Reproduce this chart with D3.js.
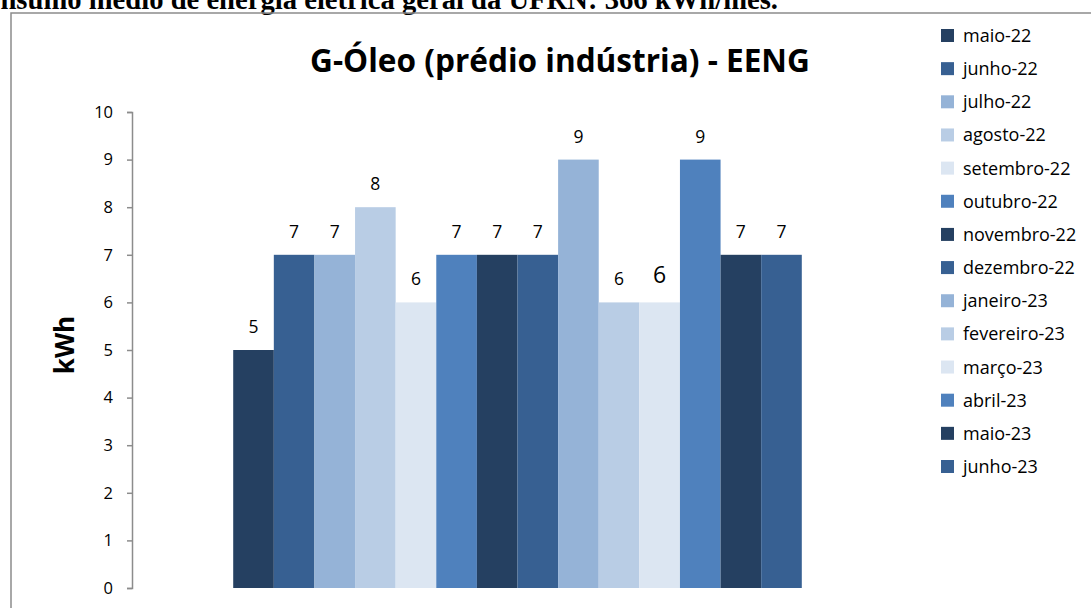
<!DOCTYPE html>
<html>
<head>
<meta charset="utf-8">
<script src="https://cdn.jsdelivr.net/npm/d3@7"></script>
<style>
  body { margin: 0; background: #fff; }
  svg { display: block; }
</style>
</head>
<body>
<div id="chart"></div>
<script>
const width = 1091,
      height = 608;

// data
const category = ["G-Óleo"];
const months = ["maio-22", "junho-22", "julho-22", "agosto-22", "setembro-22", "outubro-22",
                "novembro-22", "dezembro-22", "janeiro-23", "fevereiro-23", "março-23",
                "abril-23", "maio-23", "junho-23"];
const values = [5, 7, 7, 8, 6, 7, 7, 7, 9, 6, 6, 9, 7, 7];
const yTicks = [0, 1, 2, 3, 4, 5, 6, 7, 8, 9, 10];
const palette = ["#254061", "#376092", "#95b3d7", "#b9cde5", "#dce6f2", "#4f81bd"];

const title = "G-Óleo (prédio indústria) - EENG";
const aboveText = "Consumo médio de energia elétrica geral da UFRN: 366 kWh/mês.";

const sans = "'Open Sans', sans-serif";

const svg = d3.select("#chart")
    .append("svg")
    .attr("width", width)
    .attr("height", height);

// line of document text cut by the top edge
const docLine = svg.append("text")
    .attr("x", 778)
    .attr("y", 9)
    .attr("text-anchor", "end")
    .style("font-family", "'Liberation Serif', serif")
    .style("font-weight", "bold")
    .style("font-size", "22px")
    .text(aboveText);
// fit so that "nsumo ... mês." spans the visible width
const probe = svg.append("text")
    .style("font-family", "'Liberation Serif', serif")
    .style("font-weight", "bold")
    .style("font-size", "22px")
    .text(aboveText.slice(2));
const probeW = probe.node().getComputedTextLength();
probe.remove();
docLine.style("font-size", (22 * 778 / probeW) + "px");

// chart frame
svg.append("path")
    .attr("d", "M11," + height + "V13H" + width)
    .attr("fill", "none")
    .attr("stroke", "#8c8c8c")
    .attr("stroke-width", 1.5);

const plotLeft = 132, plotRight = 903, plotTop = 112, plotBottom = 588;

const y = d3.scaleLinear().domain([0, 10]).range([plotBottom, plotTop]);

const x0 = d3.scaleBand()
    .domain(category)
    .range([plotLeft, plotRight])
    .paddingOuter(0.178);

const x1 = d3.scaleBand()
    .domain(months)
    .range([0, x0.bandwidth()]);

const color = d3.scaleOrdinal()
    .domain(months)
    .range(months.map(function (d, i) { return palette[i % palette.length]; }));

// y axis
const yAxis = svg.append("g")
    .attr("transform", "translate(" + plotLeft + ",0)")
    .call(d3.axisLeft(y).tickValues(yTicks).tickSize(5).tickSizeOuter(5).tickPadding(14));
yAxis.select(".domain").attr("stroke", "#8c8c8c").attr("stroke-width", 1.5);
yAxis.selectAll(".tick line").attr("stroke", "#8c8c8c").attr("stroke-width", 1.5);
yAxis.selectAll(".tick text")
    .style("font-family", sans)
    .style("font-size", "16.5px")
    .attr("fill", "#000");

svg.append("text")
    .attr("transform", "translate(74,345) rotate(-90)")
    .attr("text-anchor", "middle")
    .style("font-family", sans)
    .style("font-weight", "bold")
    .style("font-size", "26px")
    .text("kWh");

// bars
const group = svg.selectAll(".group")
    .data(category)
    .enter().append("g")
    .attr("class", "group")
    .attr("transform", function (d) { return "translate(" + x0(d) + ",0)"; });

const rows = months.map(function (m, i) { return { month: m, value: values[i] }; });

group.selectAll("rect")
    .data(rows)
    .enter().append("rect")
    .attr("x", function (d) { return x1(d.month); })
    .attr("y", function (d) { return y(d.value); })
    .attr("width", x1.bandwidth())
    .attr("height", function (d) { return plotBottom - y(d.value); })
    .attr("fill", function (d) { return color(d.month); });

group.selectAll(".label")
    .data(rows)
    .enter().append("text")
    .attr("class", "label")
    .attr("x", function (d) { return x1(d.month) + x1.bandwidth() / 2; })
    .attr("y", function (d) { return y(d.value) - (d.month === "março-23" ? 19 : 17); })
    .attr("text-anchor", "middle")
    .style("font-family", sans)
    .style("font-size", function (d) { return d.month === "março-23" ? "23px" : "17.5px"; })
    .text(function (d) { return d.value; });

// title
const t = svg.append("text")
    .attr("x", 560)
    .attr("y", 72)
    .attr("text-anchor", "middle")
    .style("font-family", sans)
    .style("font-weight", "bold")
    .style("font-size", "32px")
    .text(title);
const tw = t.node().getComputedTextLength();
t.style("font-size", (32 * 500 / tw) + "px");

// legend
const legendY = d3.scalePoint().domain(months).range([35.5, 466.5]);

const legend = svg.selectAll(".legend")
    .data(months)
    .enter().append("g")
    .attr("class", "legend")
    .attr("transform", function (d) { return "translate(941," + legendY(d) + ")"; });

legend.append("rect")
    .attr("y", -6.5)
    .attr("width", 13)
    .attr("height", 13)
    .attr("fill", function (d) { return color(d); });

legend.append("text")
    .attr("x", 22)
    .attr("dy", "0.36em")
    .style("font-family", sans)
    .style("font-size", "18px")
    .text(function (d) { return d; });
</script>
</body>
</html>
